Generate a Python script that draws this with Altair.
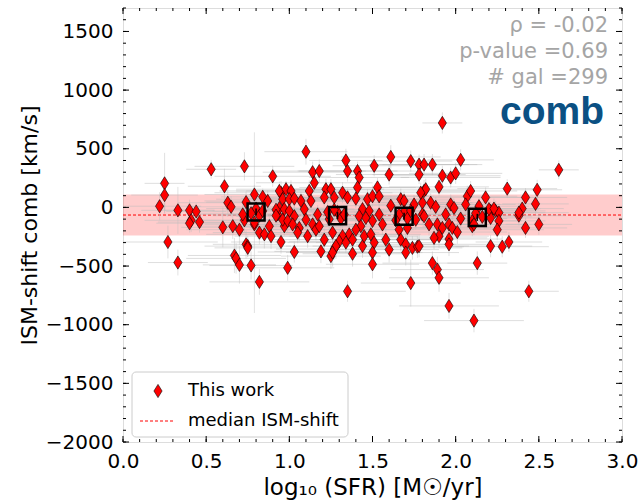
import altair as alt
import pandas as pd

W, H = 499, 434

# (log10 SFR, ISM-shift, SFR error, shift error), grouped by SFR range
left_pts = [
    (0.25, 205, 0.12, 260), (0.25, 105, 0.20, 150), (0.22, 10, 0.25, 120), (0.27, -295, 0.30, 140),
    (0.33, -470, 0.18, 110), (0.33, -25, 0.22, 200), (0.40, -25, 0.15, 90), (0.41, -110, 0.28, 100),
    (0.40, -135, 0.20, 80), (0.44, -35, 0.18, 70), (0.46, -125, 0.25, 90), (0.53, 325, 0.15, 80),
    (0.61, 180, 0.22, 150), (0.63, 40, 0.30, 120), (0.65, 5, 0.26, 90), (0.60, -170, 0.25, 170),
    (0.66, -160, 0.20, 110), (0.70, -190, 0.32, 130), (0.73, 350, 0.30, 120), (0.74, 45, 0.24, 90),
    (0.73, -110, 0.35, 100), (0.74, -315, 0.20, 120), (0.67, -410, 0.28, 150), (0.68, -435, 0.30, 130),
    (0.70, -490, 0.22, 160), (0.72, -60, 0.30, 100), (0.75, -330, 0.26, 90), (0.75, -345, 0.20, 80),
]
bin1_pts = [
    (0.77, -495, 0.25, 120), (0.82, -635, 0.30, 110), (0.90, 265, 0.35, 90), (0.95, -295, 0.30, 100),
    (0.99, -515, 0.28, 110), (0.79, 110, 0.30, 80), (0.84, 90, 0.25, 70), (0.87, 55, 0.38, 90),
    (0.79, -145, 0.30, 85), (0.82, -215, 0.28, 100), (0.85, -230, 0.35, 120), (0.88, -160, 0.30, 95),
    (0.89, -245, 0.22, 110), (0.93, -60, 0.32, 90), (0.97, -160, 0.28, 80), (0.95, 125, 0.40, 100),
    (0.94, -5, 0.30, 70), (1.10, 475, 0.25, 110), (1.14, 300, 0.30, 90), (1.18, 310, 0.28, 100),
    (1.15, 210, 0.35, 80), (0.79, -130, 0.30, 770), (1.03, -380, 0.22, 90), (0.94, 140, 0.36, 80),
    (0.98, 155, 0.30, 70), (1.01, 140, 0.33, 90), (0.96, 70, 0.40, 80), (1.00, 70, 0.28, 75),
    (1.03, 75, 0.32, 85), (0.92, -20, 0.30, 80), (0.97, -15, 0.35, 90), (1.00, -30, 0.30, 70),
    (0.92, -70, 0.25, 90), (1.03, -75, 0.35, 100), (0.96, -105, 0.30, 85), (0.99, -115, 0.28, 95),
    (1.02, -145, 0.32, 80), (1.06, -175, 0.30, 110), (1.05, -215, 0.35, 90), (1.11, -245, 0.28, 100),
    (1.07, 55, 0.32, 80), (1.09, -15, 0.30, 75), (1.12, 140, 0.38, 90), (1.13, 55, 0.30, 85),
    (1.10, -105, 0.35, 80), (1.14, -145, 0.30, 100), (1.16, -190, 0.28, 90), (1.18, -160, 0.33, 95),
    (1.17, -60, 0.30, 80), (0.80, -10, 0.30, 90), (0.82, -70, 0.28, 85), (0.77, -50, 0.32, 80),
    (0.84, -30, 0.30, 75),
]
bin2_pts = [
    (1.22, 155, 0.30, 90), (1.21, 85, 0.35, 80), (1.25, 155, 0.32, 85), (1.27, 85, 0.30, 90),
    (1.19, -375, 0.28, 100), (1.25, -415, 0.30, 110), (1.27, -355, 0.35, 90), (1.21, -275, 0.30, 95),
    (1.26, -215, 0.28, 85), (1.34, 400, 0.22, 100), (1.35, 310, 0.30, 90), (1.41, 310, 0.35, 80),
    (1.42, 255, 0.30, 95), (1.51, 355, 0.25, 90), (1.61, 430, 0.30, 100), (1.60, 280, 0.32, 85),
    (1.41, 170, 0.35, 80), (1.32, 125, 0.30, 90), (1.35, 85, 0.32, 75), (1.40, 75, 0.28, 80),
    (1.47, 70, 0.35, 85), (1.50, 95, 0.30, 90), (1.53, 170, 0.28, 80), (1.54, 95, 0.33, 75),
    (1.44, -15, 0.30, 80), (1.48, -30, 0.35, 85), (1.42, -75, 0.30, 90), (1.46, -90, 0.32, 80),
    (1.54, -60, 0.30, 85), (1.50, -115, 0.28, 95), (1.56, -145, 0.33, 90), (1.43, -160, 0.30, 85),
    (1.40, -190, 0.35, 100), (1.36, -230, 0.30, 90), (1.38, -275, 0.28, 110), (1.32, -245, 0.32, 95),
    (1.30, -290, 0.30, 100), (1.34, -300, 0.35, 90), (1.28, -330, 0.30, 110), (1.26, -385, 0.28, 120),
    (1.44, -330, 0.30, 100), (1.45, -245, 0.32, 95), (1.49, -230, 0.30, 90), (1.58, -275, 0.28, 100),
    (1.60, -360, 0.30, 110), (1.51, -300, 0.35, 95), (1.50, -385, 0.30, 100), (1.50, -485, 0.28, 120),
    (1.38, -395, 0.30, 110), (1.35, -715, 0.35, 90), (1.29, -40, 0.30, 80), (1.31, -95, 0.32, 85),
    (1.27, -20, 0.30, 75), (1.33, -60, 0.28, 80), (1.24, -100, 0.30, 90), (1.23, -40, 0.33, 85),
]
bin3_pts = [
    (1.61, 15, 0.30, 85), (1.67, 70, 0.32, 90), (1.69, 55, 0.30, 80), (1.81, 140, 0.28, 95),
    (1.80, 40, 0.30, 85), (1.73, 395, 0.25, 90), (1.78, 365, 0.30, 85), (1.78, 280, 0.28, 80),
    (1.81, 365, 0.32, 90), (1.66, -190, 0.30, 95), (1.67, -275, 0.28, 100), (1.70, -315, 0.30, 90),
    (1.70, -385, 0.32, 110), (1.74, -345, 0.30, 100), (1.77, -335, 0.28, 95), (1.71, -175, 0.30, 90),
    (1.76, -105, 0.33, 85), (1.80, -60, 0.30, 80), (1.73, -645, 0.30, 200), (1.75, 25, 0.28, 80),
    (1.69, -40, 0.30, 85), (1.71, -95, 0.28, 80), (1.66, -60, 0.32, 90), (1.73, -30, 0.30, 75),
    (1.64, -110, 0.28, 85), (1.86, 365, 0.30, 90), (1.92, 270, 0.35, 85), (1.90, 175, 0.30, 80),
    (1.82, 155, 0.28, 90), (1.79, 125, 0.30, 85), (1.85, 40, 0.32, 80), (1.88, 5, 0.30, 85),
    (1.81, -75, 0.28, 90), (1.94, -60, 0.30, 80), (1.84, -145, 0.32, 95), (1.89, -145, 0.30, 85),
    (1.92, -175, 0.28, 90), (1.90, -245, 0.30, 100), (1.87, -260, 0.32, 95), (1.86, -475, 0.30, 100),
    (1.89, -530, 0.28, 110), (1.90, -600, 0.30, 120), (1.78, -330, 0.30, 95), (1.92, 720, 0.12, 90),
]
bin4_pts = [
    (2.03, 405, 0.20, 90), (1.97, 255, 0.30, 85), (2.00, 290, 0.28, 90), (2.31, 160, 0.30, 80),
    (1.97, 25, 0.30, 85), (1.99, -5, 0.28, 80), (2.07, 95, 0.30, 90), (2.09, 140, 0.28, 85),
    (2.06, 25, 0.30, 80), (2.18, 85, 0.32, 85), (2.14, 10, 0.30, 80), (2.03, -95, 0.28, 90),
    (2.10, -115, 0.30, 85), (2.21, -30, 0.28, 80), (2.24, -30, 0.30, 85), (2.26, -45, 0.28, 80),
    (2.21, -90, 0.30, 90), (2.26, -115, 0.28, 85), (1.96, -145, 0.30, 90), (1.98, -175, 0.28, 95),
    (2.01, -210, 0.30, 100), (1.96, -270, 0.32, 95), (1.96, -315, 0.30, 100), (2.25, -190, 0.28, 90),
    (2.10, -160, 0.30, 85), (2.21, -330, 0.25, 95), (2.28, -335, 0.28, 90), (2.32, -295, 0.20, 85),
    (2.13, -475, 0.18, 100), (1.96, -840, 0.30, 110), (2.38, -70, 0.28, 85), (2.62, 320, 0.12, 80),
    (2.49, 150, 0.15, 85), (2.42, 85, 0.25, 80), (2.48, 30, 0.20, 90), (2.40, -10, 0.25, 85),
    (2.38, -45, 0.30, 80), (2.50, -145, 0.20, 90), (2.42, -175, 0.25, 85), (2.44, -715, 0.18, 90),
    (2.11, -965, 0.30, 100), (2.20, -15, 0.30, 80), (2.23, -10, 0.28, 85), (2.11, -145, 0.30, 90),
    (2.12, -50, 0.28, 80), (2.16, -80, 0.30, 85),
]

bin_sfr = [0.80, 1.29, 1.69, 2.13]
bin_shift = [-40, -70, -75, -85]
bin_err = [30, 30, 30, 30]

median_shift = -65
band_lo, band_hi = -240, 110

x_major = [0.0, 0.5, 1.0, 1.5, 2.0, 2.5, 3.0]
y_major = [-2000, -1500, -1000, -500, 0, 500, 1000, 1500]
x_minor = [round(i * 0.1, 1) for i in range(31)]
y_minor = list(range(-2000, 1701, 100))

stats_lines = ["ρ = -0.02", "p-value =0.69", "# gal =299"]
label_text = "comb"
x_title = "log₁₀ (SFR) [M☉/yr]"
y_title = "ISM-shift comb [km/s]"

FONT = "DejaVu Sans"
DIAMOND = "M0,-1L0.62,0L0,1L-0.62,0Z"

df = pd.DataFrame(left_pts + bin1_pts + bin2_pts + bin3_pts + bin4_pts,
                  columns=["sfr", "shift", "sfr_err", "shift_err"])
df["x_lo"] = df["sfr"] - df["sfr_err"]
df["x_hi"] = df["sfr"] + df["sfr_err"]
df["y_lo"] = df["shift"] - df["shift_err"]
df["y_hi"] = df["shift"] + df["shift_err"]

bins = pd.DataFrame({"sfr": bin_sfr, "shift": bin_shift, "err": bin_err})
bins["lo"] = bins["shift"] - bins["err"]
bins["hi"] = bins["shift"] + bins["err"]

xs = alt.Scale(domain=[0, 3], nice=False, zero=False)
ys = alt.Scale(domain=[-2000, 1700], nice=False, zero=False)

AX = alt.Axis(
    values=x_major, format=".1f", tickSize=0, domain=False, grid=False,
    labelFontSize=20, titleFontSize=23, labelPadding=9, titlePadding=5,
    title=x_title, labelFont=FONT, titleFont=FONT,
    titleFontWeight="normal", labelColor="black", titleColor="black",
    labelFlush=False)
AY = alt.Axis(
    values=y_major, format="d", tickSize=0, domain=False, grid=False,
    labelFontSize=20, titleFontSize=22, labelPadding=10, titlePadding=4,
    title=y_title, labelFont=FONT, titleFont=FONT,
    titleFontWeight="normal", labelColor="black", titleColor="black",
    labelFlush=False)


def X(f):
    return alt.X(f, scale=xs, axis=AX, title=x_title)


def Y(f):
    return alt.Y(f, scale=ys, axis=AY, title=y_title)


band = alt.Chart(pd.DataFrame({"lo": [band_lo], "hi": [band_hi]})).mark_rect(
    color="red", opacity=0.2
).encode(y=Y("lo:Q"), y2="hi:Q", x=alt.value(0), x2=alt.value(W))

median = alt.Chart(pd.DataFrame({"m": [median_shift]})).mark_rule(
    color="red", strokeDash=[3, 2], strokeWidth=1
).encode(y=Y("m:Q"), x=alt.value(0), x2=alt.value(W))

xerr = alt.Chart(df).mark_rule(color="#bdbdbd", opacity=0.5, strokeWidth=1, clip=True).encode(
    x=X("x_lo:Q"), x2="x_hi:Q", y=Y("shift:Q"),
)
yerr = alt.Chart(df).mark_rule(color="#bdbdbd", opacity=0.45, strokeWidth=1, clip=True).encode(
    x=X("sfr:Q"), y=Y("y_lo:Q"), y2="y_hi:Q",
)

points = alt.Chart(df).mark_point(
    shape=DIAMOND, filled=True, fill="red", stroke="black", strokeWidth=0.6,
    size=175, opacity=1
).encode(x=X("sfr:Q"), y=Y("shift:Q"))

bin_err_rule = alt.Chart(bins).mark_rule(color="black", strokeWidth=1.5).encode(
    x=X("sfr:Q"), y=Y("lo:Q"), y2="hi:Q",
)
bin_boxes = alt.Chart(bins).mark_point(
    shape="square", filled=False, stroke="black", strokeWidth=2.5, size=290, opacity=1
).encode(x=X("sfr:Q"), y=Y("shift:Q"))


def tick_layers(xv, yv, length):
    dx = pd.DataFrame({"v": xv})
    dy = pd.DataFrame({"v": yv})
    base_x = alt.Chart(dx).mark_rule(color="black", strokeWidth=1)
    base_y = alt.Chart(dy).mark_rule(color="black", strokeWidth=1)
    return [
        base_x.encode(x=X("v:Q"), y=alt.value(H), y2=alt.value(H - length)),
        base_x.encode(x=X("v:Q"), y=alt.value(0), y2=alt.value(length)),
        base_y.encode(y=Y("v:Q"), x=alt.value(0), x2=alt.value(length)),
        base_y.encode(y=Y("v:Q"), x=alt.value(W), x2=alt.value(W - length)),
    ]


ticks = tick_layers(x_minor, y_minor, 3) + tick_layers(x_major, y_major, 6)

one = pd.DataFrame({"a": [0]})
stats = [
    alt.Chart(one).mark_text(
        text=t, align="right", baseline="alphabetic", font=FONT, fontSize=21, color="#a5a5a5"
    ).encode(x=alt.value(485), y=alt.value(yy))
    for t, yy in zip(stats_lines, [24, 50, 76])
]
comb = alt.Chart(one).mark_text(
    text=label_text, align="right", baseline="alphabetic", font="Liberation Sans", fontSize=39,
    fontWeight="bold", color="#0b5083"
).encode(x=alt.value(481), y=alt.value(116))

legend_box = alt.Chart(one).mark_rect(
    fill="white", stroke="#cccccc", strokeWidth=1, cornerRadius=4
).encode(x=alt.value(9), x2=alt.value(225), y=alt.value(364), y2=alt.value(429))
legend_sym = alt.Chart(one).mark_point(
    shape=DIAMOND, filled=True, fill="red", stroke="black", strokeWidth=0.6, size=175, opacity=1
).encode(x=alt.value(35), y=alt.value(383))
legend_line = alt.Chart(one).mark_rule(color="red", strokeDash=[3, 2], strokeWidth=1).encode(
    x=alt.value(17), x2=alt.value(52), y=alt.value(413))
legend_t1 = alt.Chart(one).mark_text(
    text="This work", align="left", baseline="middle", font=FONT, fontSize=18, color="black"
).encode(x=alt.value(65), y=alt.value(383))
legend_t2 = alt.Chart(one).mark_text(
    text="median ISM-shift", align="left", baseline="middle", font=FONT, fontSize=18, color="black"
).encode(x=alt.value(65), y=alt.value(413))

chart = alt.layer(
    band, median, xerr, yerr, points, bin_err_rule, bin_boxes,
    legend_box, legend_sym, legend_line, legend_t1, legend_t2,
    *ticks, *stats, comb,
).properties(
    width=W, height=H,
    autosize=alt.AutoSizeParams(type="none"),
    padding={"left": 123, "top": 8, "right": 19, "bottom": 62},
).configure_view(stroke="black", strokeWidth=1).configure(background="white")

chart.save("out.html", embed_options={"renderer": "svg", "actions": False})
